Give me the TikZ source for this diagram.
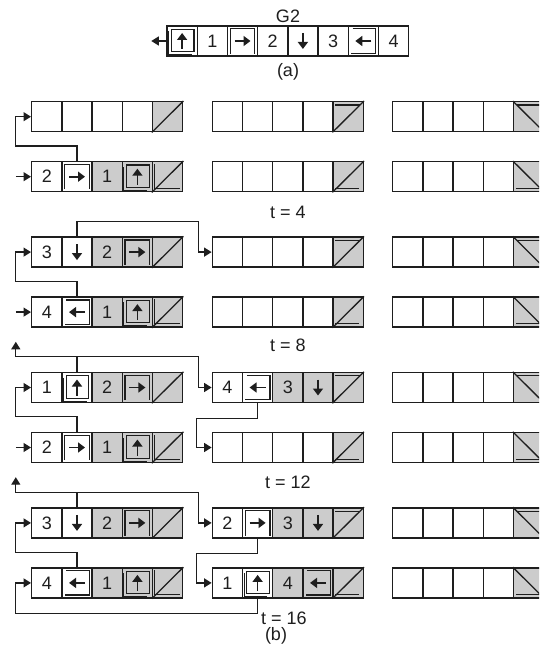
\documentclass[tikz,border=0pt]{standalone}
\usepackage{fontspec}
\setmainfont{Liberation Sans}
\usetikzlibrary{calc,arrows.meta}
\definecolor{cellgrey}{RGB}{204,204,204}
\definecolor{ink}{RGB}{30,30,30}
\tikzset{
 cell/.style={draw=ink, line width=1.4pt, minimum width=30.2pt, minimum height=30pt, inner sep=0pt, font=\fontsize{18}{18}\selectfont, text=ink},
 conn/.style={draw=ink, line width=1.3pt, -{Triangle[length=7.5pt,width=9pt]}},
 fr/.style={draw=ink, line width=1.3pt},
 frt/.style={draw=ink, line width=1pt},
 glyph/.style={draw=ink, line width=1.6pt, -{Triangle[length=7pt,width=10pt]}},
 lab/.style={font=\fontsize{18}{18}\selectfont, text=ink, inner sep=0pt}
}
\newcommand\blk[8]{%
 \foreach \k/\t in {1/{#5},2/{#6},3/{#7},4/{#8}}{%
   \ifnum\k<#4\relax \def\fc{white}\else\def\fc{cellgrey}\fi
   \node[cell,fill=\fc] (#1-\k) at ({#2+30.2*(\k-0.5)},{#3+15}) {\t};
 }%
 \node[cell,fill=cellgrey] (#1-5) at ({#2+30.2*4.5},{#3+15}) {};
}
\newcommand\glup[1]{%
 \draw[glyph] ($(#1.center)+(0,8)$) -- ($(#1.center)+(0,-8)$);
 \draw[fr] ($(#1.north west)+(5,4)$) rectangle ($(#1.south east)+(-4,-5)$);
 \draw[frt] ($(#1.north west)+(2.2,6)$) |- ($(#1.south east)+(-6,-2.2)$);}
\newcommand\gldown[1]{%
 \draw[glyph] ($(#1.center)+(0,-8)$) -- ($(#1.center)+(0,8)$);}
\newcommand\glright[1]{%
 \draw[glyph] ($(#1.center)+(-8,0)$) -- ($(#1.center)+(8,0)$);
 \draw[fr] ($(#1.south west)+(3.5,-3)$) |- ($(#1.north east)+(-3.5,3.5)$) -- ($(#1.south east)+(-3.5,-3)$);}
\newcommand\glleft[1]{%
 \draw[glyph] ($(#1.center)+(8,0)$) -- ($(#1.center)+(-8,0)$);
 \draw[fr] ($(#1.north west)+(5,3.5)$) -| ($(#1.south east)+(-3.5,-3.5)$) -- ($(#1.south west)+(3.5,-3.5)$);}
\newcommand\lstA[1]{\draw[fr] (#1-5.south west) -- (#1-5.north east);}
\newcommand\lstB[1]{\draw[fr] (#1-5.south west) -- (#1-5.north east);
 \draw[fr] ($(#1-5.north west)+(3,4)$) -- ($(#1-5.north east)+(-4,4)$);}
\newcommand\lstC[1]{\draw[fr] (#1-5.north west) -- (#1-5.south east);
 \draw[fr] ($(#1-5.north west)+(4,4)$) -- ($(#1-5.north east)+(-3,4)$);}
\newcommand\lstD[1]{\draw[fr] (#1-5.south west) -- (#1-5.north east);
 \draw[fr] ($(#1-5.north west)+(3,3)$) |- ($(#1-5.south east)+(-3,-4)$);}
\newcommand\lstE[1]{\draw[fr] (#1-5.south west) -- (#1-5.north east);
 \draw[fr] ($(#1-5.south west)+(3,-4)$) -- ($(#1-5.south east)+(-5,-4)$);}
\newcommand\lstF[1]{\draw[fr] (#1-5.north west) -- (#1-5.south east);
 \draw[fr] ($(#1-5.south west)+(3,-4)$) -- ($(#1-5.south east)+(-4,-4)$);}
\begin{document}
\begin{tikzpicture}[x=1pt,y=-1pt]
\useasboundingbox (0,0) rectangle (539,650);
\clip (0,0) rectangle (539,650);
\fill[white] (0,0) rectangle (539,650);
% ---- (a)
\node[lab] (g2) at (288,16) {G2};
\foreach \k/\t in {1/{},2/1,3/{},4/2,5/{},6/3,7/{},8/4}{%
  \node[cell,fill=white] (a-\k) at ({167+30.2*(\k-0.5)},41) {\t};}
\glup{a-1}\glright{a-3}\gldown{a-5}\glleft{a-7}
\draw[conn] (a-1.west) -- ++(-15,0) coordinate (aout);
\node[lab] (la) at (288,72) {(a)};
% ---- (b) rows
\def\xa{31.7}\def\xb{212.3}\def\xc{392.7}
% row 1
\blk{r1a}{\xa}{101.7}{5}{}{}{}{}\lstA{r1a}
\blk{r1b}{\xb}{101.7}{5}{}{}{}{}\lstB{r1b}
\blk{r1c}{\xc}{101.7}{5}{}{}{}{}\lstC{r1c}
% row 2
\blk{r2a}{\xa}{161.7}{3}{2}{}{1}{}\glright{r2a-2}\glup{r2a-4}\lstD{r2a}
\blk{r2b}{\xb}{161.7}{5}{}{}{}{}\lstE{r2b}
\blk{r2c}{\xc}{161.7}{5}{}{}{}{}\lstF{r2c}
\node[lab] (t4) at (287.8,212) {t = 4};
% row 3
\blk{r3a}{\xa}{237.1}{3}{3}{}{2}{}\gldown{r3a-2}\glright{r3a-4}\lstA{r3a}
\blk{r3b}{\xb}{237.1}{5}{}{}{}{}\lstB{r3b}
\blk{r3c}{\xc}{237.1}{5}{}{}{}{}\lstC{r3c}
% row 4
\blk{r4a}{\xa}{297.1}{3}{4}{}{1}{}\glleft{r4a-2}\glup{r4a-4}\lstD{r4a}
\blk{r4b}{\xb}{297.1}{5}{}{}{}{}\lstE{r4b}
\blk{r4c}{\xc}{297.1}{5}{}{}{}{}\lstF{r4c}
\node[lab] (t8) at (287.8,345) {t = 8};
% row 5
\blk{r5a}{\xa}{372.5}{3}{1}{}{2}{}\glup{r5a-2}\glright{r5a-4}\lstA{r5a}
\blk{r5b}{\xb}{372.5}{3}{4}{}{3}{}\glleft{r5b-2}\gldown{r5b-4}\lstB{r5b}
\blk{r5c}{\xc}{372.5}{5}{}{}{}{}\lstC{r5c}
% row 6
\blk{r6a}{\xa}{432.5}{3}{2}{}{1}{}\glright{r6a-2}\glup{r6a-4}\lstD{r6a}
\blk{r6b}{\xb}{432.5}{5}{}{}{}{}\lstE{r6b}
\blk{r6c}{\xc}{432.5}{5}{}{}{}{}\lstF{r6c}
\node[lab] (t12) at (287.8,482) {t = 12};
% row 7
\blk{r7a}{\xa}{507.9}{3}{3}{}{2}{}\gldown{r7a-2}\glright{r7a-4}\lstA{r7a}
\blk{r7b}{\xb}{507.9}{3}{2}{}{3}{}\glright{r7b-2}\gldown{r7b-4}\lstB{r7b}
\blk{r7c}{\xc}{507.9}{5}{}{}{}{}\lstC{r7c}
% row 8
\blk{r8a}{\xa}{567.9}{3}{4}{}{1}{}\glleft{r8a-2}\glup{r8a-4}\lstD{r8a}
\blk{r8b}{\xb}{567.9}{3}{1}{}{4}{}\glup{r8b-2}\glleft{r8b-4}\lstE{r8b}
\blk{r8c}{\xc}{567.9}{5}{}{}{}{}\lstF{r8c}
\node[lab,anchor=west] (t16) at (261,618) {t = 16};
\node[lab] (lb) at (276,636) {(b)};
% ---- connectors
\draw[conn] (r2a-2.north) -- ++(0,-15) -| ([xshift=-15.2pt]r1a-1.west) -- (r1a-1.west);
\draw[conn] ([xshift=-15.2pt]r2a-1.west) -- (r2a-1.west);
\draw[conn] (r3a-2.north) -- ++(0,-15) -| ([xshift=-13.3pt]r3b-1.west) -- (r3b-1.west);
\draw[conn] (r4a-2.north) -- ++(0,-15) -| ([xshift=-15.2pt]r3a-1.west) -- (r3a-1.west);
\draw[conn] ([xshift=-15.2pt]r4a-1.west) -- (r4a-1.west);
\draw[conn] (r5a-2.north) -- ++(0,-15) -| ([xshift=-15.2pt,yshift=30pt]r5a-1.north west);
\draw[conn] (r5a-2.north) -- ++(0,-15) -| ([xshift=-13.3pt]r5b-1.west) -- (r5b-1.west);
\draw[conn] (r6a-2.north) -- ++(0,-15) -| ([xshift=-15.2pt]r5a-1.west) -- (r5a-1.west);
\draw[conn] ([xshift=-15.2pt]r6a-1.west) -- (r6a-1.west);
\draw[conn] (r5b-2.south) -- ++(0,15) -| ([xshift=-15.2pt]r6b-1.west) -- (r6b-1.west);
\draw[conn] (r7a-2.north) -- ++(0,-15) -| ([xshift=-15.2pt,yshift=30pt]r7a-1.north west);
\draw[conn] (r7a-2.north) -- ++(0,-15) -| ([xshift=-13.3pt]r7b-1.west) -- (r7b-1.west);
\draw[conn] (r8a-2.north) -- ++(0,-15) -| ([xshift=-15.2pt]r7a-1.west) -- (r7a-1.west);
\draw[conn] (r7b-2.south) -- ++(0,15) -| ([xshift=-15.2pt]r8b-1.west) -- (r8b-1.west);
\draw[conn] (r8b-2.south) -- ++(0,15) -| ([xshift=-15.2pt]r8a-1.west) -- (r8a-1.west);
\end{tikzpicture}
\end{document}
